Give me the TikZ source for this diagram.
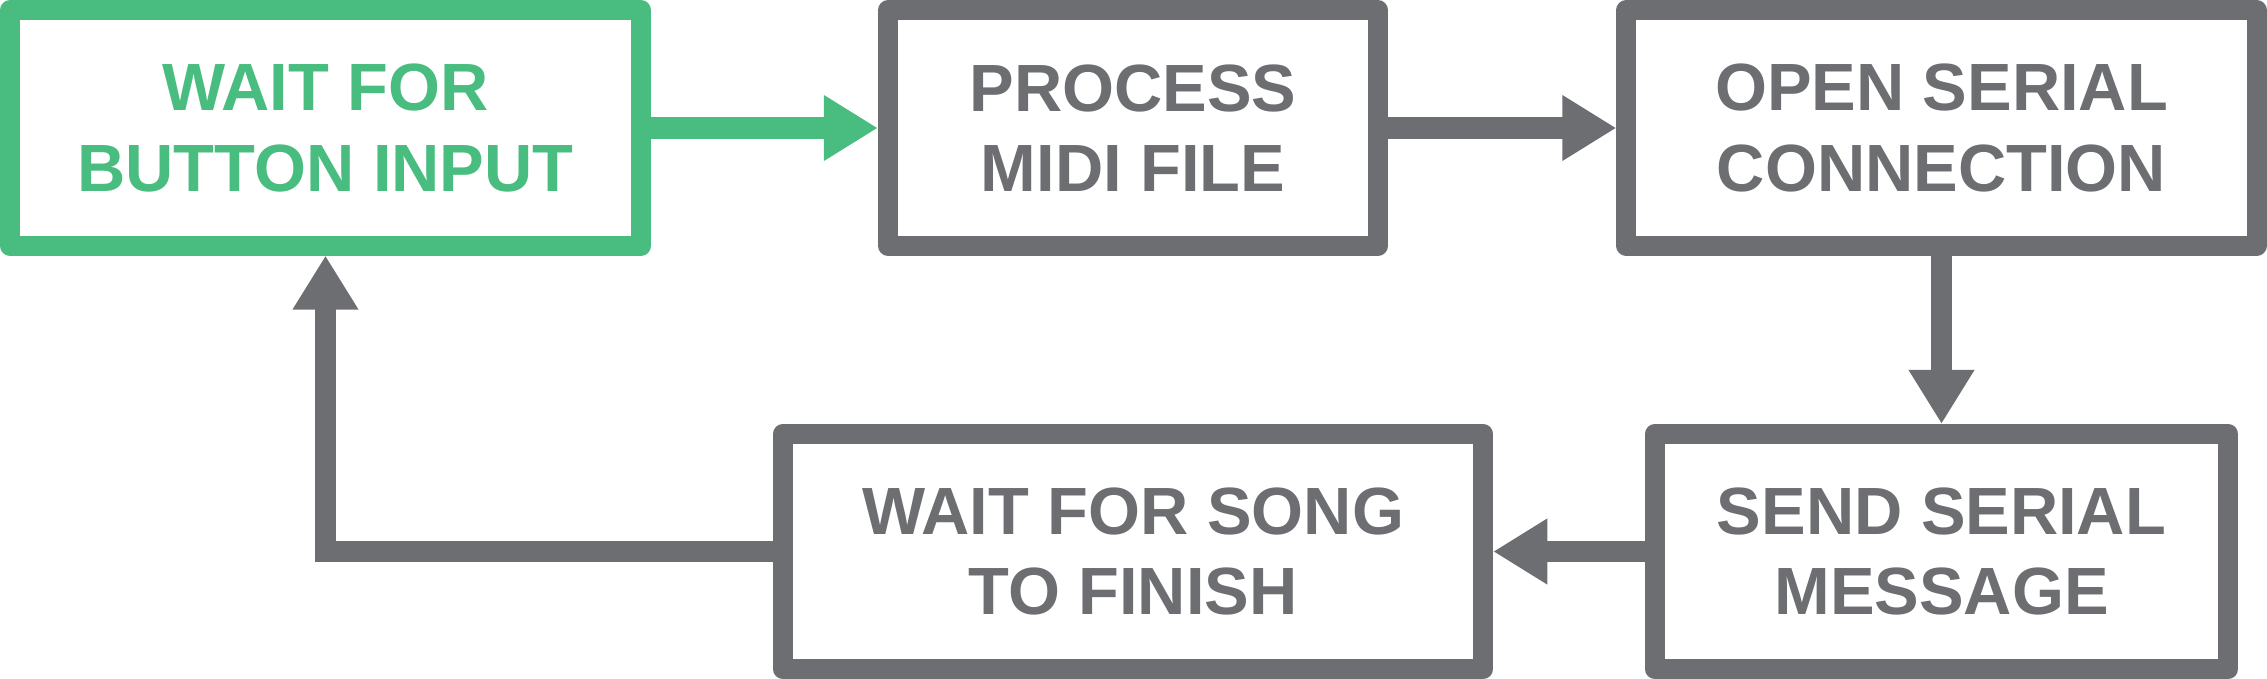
\documentclass[tikz,border=0pt]{standalone}
\usepackage{fontspec}
\setmainfont{Liberation Sans}
\usetikzlibrary{arrows.meta}
\definecolor{flowgreen}{HTML}{48BD7F}
\definecolor{flowgray}{HTML}{6D6E72}
\begin{document}
\begin{tikzpicture}[x=0.01cm,y=-0.01cm,
  stepbox/.style={draw=flowgray,line width=0.2cm,line join=round,fill=white,text=flowgray,
    align=center,inner sep=0pt,minimum height=2.35cm,font=\fontsize{19}{22.8}\selectfont\bfseries},
  flow/.style={flowgray,line width=0.21cm,-{Triangle[length=0.54cm,width=0.62cm]}}]
\useasboundingbox (0,0) rectangle (2267,679);
\node[stepbox,draw=flowgreen,text=flowgreen,minimum width=6.31cm] (button) at (325.5,128) {WAIT FOR\\BUTTON INPUT};
\node[stepbox,minimum width=4.90cm] (midi) at (1133,128) {PROCESS\\MIDI FILE};
\node[stepbox,minimum width=6.30cm] (serial) at (1941.5,128) {OPEN SERIAL\\CONNECTION};
\node[stepbox,minimum width=5.73cm] (message) at (1941.5,551.5) {SEND SERIAL\\MESSAGE};
\node[stepbox,minimum width=7.00cm] (song) at (1133,551.5) {WAIT FOR SONG\\TO FINISH};
\draw[flow,flowgreen] (button) -- (midi);
\draw[flow] (midi) -- (serial);
\draw[flow] (serial) -- (message);
\draw[flow] (message) -- (song);
\draw[flow] (song.west) -| (button.south);
\end{tikzpicture}
\end{document}
